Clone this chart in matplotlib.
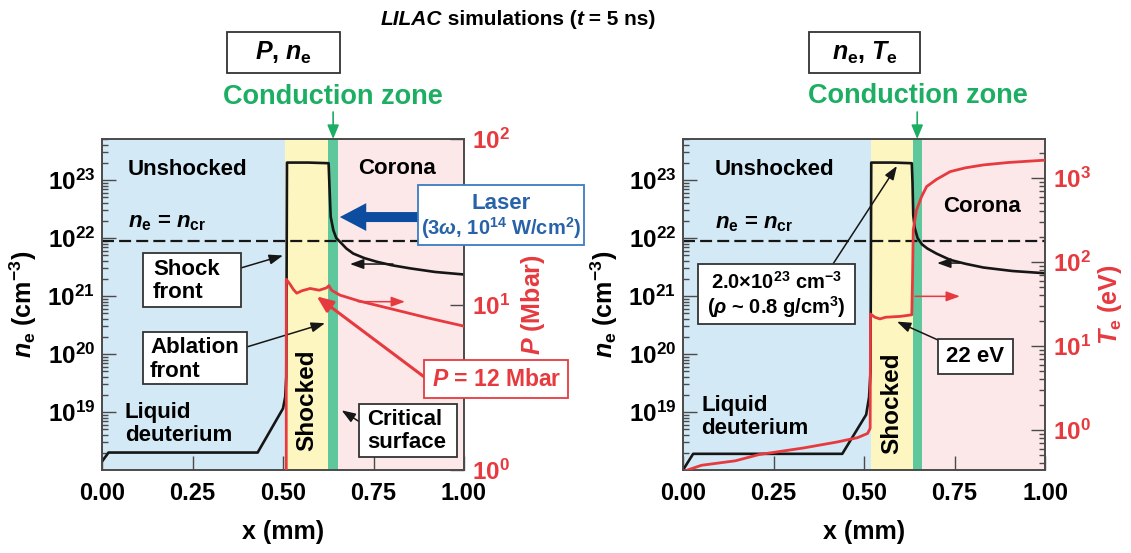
import numpy as np
import matplotlib
matplotlib.use("Agg")
import matplotlib.pyplot as plt
from matplotlib.patches import Rectangle
from matplotlib.ticker import FuncFormatter, LogLocator, NullFormatter, NullLocator

plt.rcParams['font.family'] = 'Liberation Sans'
plt.rcParams['font.weight'] = 'bold'
plt.rcParams['axes.labelweight'] = 'bold'
plt.rcParams['mathtext.fontset'] = 'custom'
plt.rcParams['mathtext.rm'] = 'Liberation Sans:bold'
plt.rcParams['mathtext.bf'] = 'Liberation Sans:bold'
plt.rcParams['mathtext.sf'] = 'Liberation Sans:bold'
plt.rcParams['mathtext.it'] = 'Liberation Sans:bold:italic'

# ---- profiles at t = 5 ns ----
# left panel: electron density and pressure
x_ne_left = [0.0, 0.018, 0.43, 0.50, 0.506, 0.509, 0.511, 0.57, 0.626, 0.628, 0.6317,
             0.639, 0.647, 0.6575, 0.675, 0.694, 0.725, 0.759, 0.80, 0.851, 0.92, 1.0]
ne_left = [1.4e18, 2.0e18, 2.0e18, 1.15e19, 1.8e19, 4e19, 2.0e23, 2.0e23, 1.95e23, 9e22, 2.33e22,
           1.37e22, 1.0e22, 8.6e21, 6.6e21, 5.4e21, 4.5e21, 3.9e21, 3.4e21, 3.0e21, 2.6e21, 2.35e21]
x_P = [0.509, 0.509, 0.520, 0.529, 0.538, 0.552, 0.575, 0.60, 0.620, 0.627, 0.634,
       0.657, 0.71, 0.80, 0.90, 1.0]
P_left = [1.0, 14.2, 13.2, 12.3, 11.7, 12.1, 12.5, 12.2, 12.6, 13.0, 12.2,
          11.4, 10.5, 9.4, 8.3, 7.4]

# right panel: electron density and temperature
x_ne_right = [0.0, 0.028, 0.44, 0.506, 0.514, 0.518, 0.520, 0.58, 0.632, 0.634, 0.636, 0.640,
              0.648, 0.66, 0.675, 0.70, 0.738, 0.78, 0.83, 0.91, 1.0]
ne_right = [1.0e18, 1.9e18, 1.9e18, 9e18, 1.8e19, 5e19, 2.0e23, 2.0e23, 1.95e23, 9e22, 2.5e22, 1.5e22,
            1.0e22, 7.8e21, 6.6e21, 5.4e21, 4.2e21, 3.6e21, 3.1e21, 2.7e21, 2.47e21]
x_Te = [0.0, 0.051, 0.145, 0.21, 0.332, 0.426, 0.482, 0.51, 0.517, 0.518, 0.53, 0.544,
        0.56, 0.60, 0.632, 0.634, 0.636, 0.645, 0.659, 0.673, 0.70, 0.738, 0.78, 0.83, 0.90, 1.0]
Te_right = [0.32, 0.38, 0.43, 0.51, 0.61, 0.72, 0.81, 0.91, 1.05, 24, 22, 21,
            22, 22.5, 23.5, 60, 240, 415, 600, 790, 960, 1190, 1320, 1430, 1530, 1630]

# region boundaries: shocked start, conduction zone start, critical surface
zones_left = [0.505, 0.624, 0.653]
zones_right = [0.520, 0.634, 0.660]
n_cr = 9e21

ne_ticks = [1e19, 1e20, 1e21, 1e22, 1e23]
P_ticks = [1, 10, 100]
Te_ticks = [1, 10, 100, 1000]
x_ticks = [0.0, 0.25, 0.50, 0.75, 1.00]

BLUE_BG = '#d3e9f5'
YELLOW_BG = '#fdf6c1'
GREEN_BG = '#5ec79b'
PINK_BG = '#fce7e9'
RED = '#e63a3f'
INK = '#161616'
AXC = '#4a4a4a'
GREEN_TXT = '#1cae62'
LASER = '#0d4d9f'
LASER_TXT = '#2862a9'
LASER_EDGE = '#3c7cc0'

W, H = 1131, 553
fig = plt.figure(figsize=(W / 100, H / 100), dpi=100)
axL = fig.add_axes([102 / W, 83 / H, 362 / W, 331 / H])
axR = fig.add_axes([683 / W, 83 / H, 362 / W, 331 / H])

pow10 = FuncFormatter(lambda v, p: r'$10^{%d}$' % int(round(np.log10(v))))


def ftext(x, y, s, **kw):
    kw.setdefault('va', 'center')
    kw.setdefault('size', 16)
    kw.setdefault('zorder', 6)
    return fig.text(x / W, 1 - y / H, s, **kw)


def fbox(x0, y0, x1, y1, ec='#333333', lw=1.3):
    fig.add_artist(Rectangle((x0 / W, 1 - y1 / H), (x1 - x0) / W, (y1 - y0) / H,
                             transform=fig.transFigure, fc='white', ec=ec, lw=lw, zorder=5))


def thin_arrow(ax, xy, xytext, color=INK, lw=1.1, textcoords='data', ms=15):
    ax.annotate('', xy=xy, xytext=xytext, textcoords=textcoords,
                arrowprops=dict(arrowstyle='-|>,head_length=0.55,head_width=0.2', color=color,
                                lw=lw, mutation_scale=ms, shrinkA=0, shrinkB=0), zorder=7)


def base_panel(ax, edges, x_ne, ne):
    a, b, c = edges
    ax.axvspan(0, a, color=BLUE_BG, lw=0, zorder=0)
    ax.axvspan(a, b, color=YELLOW_BG, lw=0, zorder=0)
    ax.axvspan(b, c, color=GREEN_BG, lw=0, zorder=0)
    ax.axvspan(c, 1, color=PINK_BG, lw=0, zorder=0)
    ax.axhline(n_cr, color=INK, lw=1.6, dashes=(5.4, 2.3), zorder=2)
    ax.plot(x_ne, ne, color=INK, lw=1.9, zorder=3)
    ax.set_xlim(0, 1)
    ax.set_yscale('log')
    ax.set_ylim(1e18, 5.1e23)
    ax.set_yticks(ne_ticks)
    ax.yaxis.set_major_formatter(pow10)
    ax.yaxis.set_minor_locator(LogLocator(subs=np.arange(2, 10), numticks=20))
    ax.yaxis.set_minor_formatter(NullFormatter())
    ax.set_xticks(x_ticks)
    ax.set_xticklabels(['%.2f' % v for v in x_ticks])
    ax.tick_params(which='both', direction='in', color=AXC, width=1.0, right=False, top=False)
    ax.tick_params(which='major', length=10)
    ax.tick_params(which='minor', length=4.5)
    ax.tick_params(axis='x', labelsize=17, pad=9)
    ax.tick_params(axis='y', labelsize=17.5, pad=5)
    for s in ax.spines.values():
        s.set_color(AXC)
        s.set_linewidth(1.2)
    ax.set_xlabel('x (mm)', fontsize=18)
    ax.xaxis.set_label_coords(0.5, -0.186)
    ax.xaxis.label.set_va('center')
    ax.set_ylabel(r'$n_{\rm e}$ (cm$^{-3}$)', fontsize=18)
    ax.yaxis.set_label_coords(-0.218, 0.5)
    ax.yaxis.label.set_va('center')


def twin_panel(ax, label):
    tw = ax.twinx()
    tw.set_yscale('log')
    tw.tick_params(which='both', direction='in', color=AXC, width=1.0, labelcolor=RED,
                   labelsize=17.5, pad=5.5)
    tw.tick_params(which='major', length=10)
    tw.tick_params(which='minor', length=4.5)
    for s in tw.spines.values():
        s.set_color(AXC)
        s.set_linewidth(1.2)
    tw.set_ylabel(label, fontsize=18, color=RED)
    tw.yaxis.label.set_va('center')
    return tw


base_panel(axL, zones_left, x_ne_left, ne_left)
base_panel(axR, zones_right, x_ne_right, ne_right)

axP = twin_panel(axL, r'$P$ (Mbar)')
axP.plot(x_P, P_left, color=RED, lw=2.0, zorder=3)
axP.set_ylim(1, 100)
axP.set_yticks(P_ticks)
axP.yaxis.set_major_formatter(pow10)
axP.yaxis.set_minor_locator(NullLocator())
axP.yaxis.set_label_coords(1.19, 0.5)

axT = twin_panel(axR, r'$T_{\rm e}$ (eV)')
axT.plot(x_Te, Te_right, color=RED, lw=2.0, zorder=3)
axT.set_ylim(0.334, 2910)
axT.set_yticks(Te_ticks)
axT.yaxis.set_major_formatter(pow10)
axT.yaxis.set_minor_locator(LogLocator(subs=np.arange(2, 10), numticks=20))
axT.yaxis.set_minor_formatter(NullFormatter())
axT.yaxis.set_label_coords(1.18, 0.5)

# ---- title: italic and upright pieces chained, then centred ----
tkw = dict(family='Liberation Sans', size=15)
t0 = ftext(410, 25, 'LILAC', style='italic', va='baseline', **tkw)
t = t0
for piece, sty in [(' simulations (', 'normal'), ('t', 'italic'), (' = 5 ns)', 'normal')]:
    t = axL.annotate(piece, xy=(1, 0), xycoords=t, va='bottom', style=sty,
                     annotation_clip=False, **tkw)
renderer = fig.canvas.get_renderer()
span = t.get_window_extent(renderer).x1 - t0.get_window_extent(renderer).x0
t0.set_x((518 - span / 2) / W)

# ---- left panel annotations ----
fbox(227.3, 32.3, 340, 73.3)
ftext(283.7, 53, r'$P$, $n_{\rm e}$', ha='center', size=18)
ftext(332.5, 96.7, 'Conduction zone', ha='center', size=19.5, color=GREEN_TXT)
axL.annotate('', xy=(np.mean(zones_left[1:]), 1.0), xycoords=axL.get_xaxis_transform(),
             xytext=(0, 27), textcoords='offset pixels', annotation_clip=False,
             arrowprops=dict(arrowstyle='-|>,head_length=0.6,head_width=0.25', color=GREEN_TXT,
                             lw=1.2, mutation_scale=14, shrinkA=0, shrinkB=0))

ftext(128, 170, 'Unshocked')
ftext(128, 223, r'$n_{\rm e}$ = $n_{\rm cr}$')
ftext(358, 169, 'Corona')
ftext(125, 424, 'Liquid\ndeuterium', linespacing=1.13)
axL.text(np.mean(zones_left[:2]), 0.2115, 'Shocked', transform=axL.get_xaxis_transform(),
         rotation=90, ha='center', va='center', size=17.5, zorder=4)

fbox(142.7, 252.7, 240.7, 307.3)
ftext(153, 280.8, 'Shock\nfront', linespacing=1.13)
thin_arrow(axL, (0.50, 5e21), (240.7, H - 268), textcoords='figure pixels')

fbox(142.7, 331.7, 246.7, 384.3)
ftext(150, 359.5, 'Ablation\nfront', linespacing=1.13)
thin_arrow(axL, (0.616, 3.4e20), (246.7, H - 347), textcoords='figure pixels')

fbox(359.3, 404, 456.7, 456.7)
ftext(367, 431.3, 'Critical\nsurface', linespacing=1.13)
thin_arrow(axL, (0.662, 1.07e19), (359.3, H - 421.7), textcoords='figure pixels')

thin_arrow(axL, (0.685, 3.56e21), (0.804, 3.56e21))
thin_arrow(axP, (0.837, 10.4), (0.708, 10.4), color=RED)

# laser beam arrow
axL.annotate('', xy=(0.657, 2.3e22), xytext=(0.92, 2.3e22), annotation_clip=False,
             arrowprops=dict(arrowstyle='simple,head_length=19,head_width=20,tail_width=7.2',
                             mutation_scale=1, fc=LASER, ec='none', shrinkA=0, shrinkB=0))
fbox(418.3, 185, 584, 245, ec=LASER_EDGE)
ftext(501, 203.3, 'Laser', ha='center', size=16, color=LASER_TXT)
ftext(501, 228.3, r'(3$\omega$, 10$^{14}$ W/cm$^{2}$)', ha='center', size=14.5, color=LASER_TXT)

axP.annotate('', xy=(0.593, 11.2), xytext=(424.3, H - 377), textcoords='figure pixels',
             arrowprops=dict(arrowstyle='-|>,head_length=0.6,head_width=0.25', color=RED,
                             lw=2.2, mutation_scale=16, shrinkA=0, shrinkB=0))
fbox(424.3, 360, 568.3, 398.3, ec=RED)
ftext(496.3, 379, r'$P$ = 12 Mbar', ha='center', size=16.5, color=RED)

# ---- right panel annotations ----
fbox(809.3, 32.3, 920, 73.3)
ftext(864.7, 53, r'$n_{\rm e}$, $T_{\rm e}$', ha='center', size=18)
ftext(918, 96, 'Conduction zone', ha='center', size=19.5, color=GREEN_TXT)
axR.annotate('', xy=(np.mean(zones_right[1:]), 1.0), xycoords=axR.get_xaxis_transform(),
             xytext=(0, 27), textcoords='offset pixels', annotation_clip=False,
             arrowprops=dict(arrowstyle='-|>,head_length=0.6,head_width=0.25', color=GREEN_TXT,
                             lw=1.2, mutation_scale=14, shrinkA=0, shrinkB=0))

ftext(715, 170, 'Unshocked')
ftext(715, 224, r'$n_{\rm e}$ = $n_{\rm cr}$')
ftext(943, 207, 'Corona')
ftext(701.6, 417, 'Liquid\ndeuterium', linespacing=1.13)
axR.text(np.mean(zones_right[:2]), 0.203, 'Shocked', transform=axR.get_xaxis_transform(),
         rotation=90, ha='center', va='center', size=17.5, zorder=4)

thin_arrow(axR, (0.591, 1.75e23), (833, H - 264), textcoords='figure pixels')
fbox(698.3, 264, 855, 324)
ftext(776.7, 282, r'2.0$\times$10$^{23}$ cm$^{-3}$', ha='center', size=14.5)
ftext(776.7, 306.7, r'($\rho$ ~ 0.8 g/cm$^{3}$)', ha='center', size=14.5)

thin_arrow(axT, (0.591, 19.5), (938, H - 340), textcoords='figure pixels')
fbox(937.5, 338.5, 1013, 374)
ftext(975.2, 356, '22 eV', ha='center', size=16)

thin_arrow(axR, (0.702, 3.7e21), (0.765, 3.7e21))
thin_arrow(axT, (0.765, 39), (0.641, 39), color=RED)

fig.savefig('out.png', dpi=100)
